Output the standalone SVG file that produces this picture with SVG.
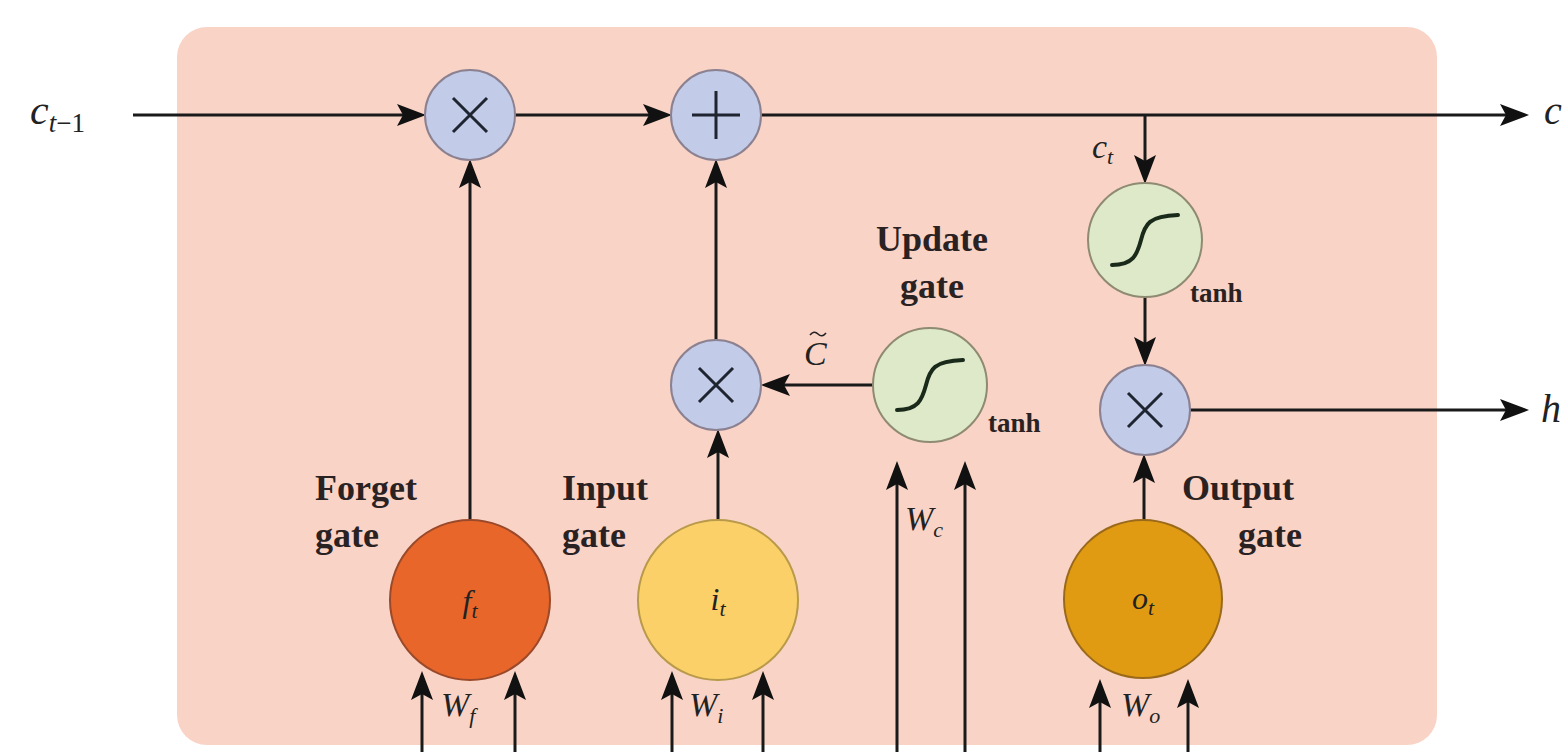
<svg xmlns="http://www.w3.org/2000/svg" width="1563" height="752" viewBox="0 0 1563 752">
<defs>
<marker id="ah" markerUnits="userSpaceOnUse" markerWidth="30" markerHeight="24" refX="24" refY="12" orient="auto" viewBox="0 0 30 24">
<path d="M0,1 L29,12 L0,23 L6,12 z" fill="#111"/>
</marker>
<style>
.cn{fill:none;stroke:#1a1a1a;stroke-width:3;marker-end:url(#ah)}
.op{fill:#c2cbe8;stroke:#8c8190;stroke-width:2}
.sg{fill:#dde9c8;stroke:#8f8a72;stroke-width:2}
.sym{fill:none;stroke:#1e2430;stroke-width:3}
.crv{fill:none;stroke:#1a2a1a;stroke-width:4;stroke-linecap:round}
.lbl{font-family:"Liberation Serif",serif;font-weight:bold;font-size:36px;fill:#2a2222}
.th{font-family:"Liberation Serif",serif;font-weight:bold;font-size:27px;fill:#2a2222}
.m{font-family:"Liberation Serif",serif;font-style:italic;fill:#222}
</style>
</defs>
<rect x="177" y="27" width="1260" height="718" rx="30" fill="#f9d3c6"/>

<g id="connectors">
<path class="cn" d="M133,115 H421"/>
<path class="cn" d="M515,115 H667"/>
<path class="cn" d="M761,115 H1524"/>
<path class="cn" d="M1145,115 V179"/>
<path class="cn" d="M1145,297 V361"/>
<path class="cn" d="M1190,410 H1524"/>
<path class="cn" d="M1144,521 V459"/>
<path class="cn" d="M873,385 H766"/>
<path class="cn" d="M716,340 V164"/>
<path class="cn" d="M718,520 V434"/>
<path class="cn" d="M470,520 V164"/>
<path class="cn" d="M422,752 V676"/>
<path class="cn" d="M515,752 V676"/>
<path class="cn" d="M672,752 V676"/>
<path class="cn" d="M763,752 V676"/>
<path class="cn" d="M897,752 V466"/>
<path class="cn" d="M965,752 V466"/>
<path class="cn" d="M1100,752 V684"/>
<path class="cn" d="M1188,752 V684"/>
</g>

<g id="mul_forget">
<circle class="op" cx="470" cy="115" r="45"/>
<path class="sym" d="M453,98 L487,132 M487,98 L453,132"/>
</g>
<g id="add_cell">
<circle class="op" cx="716" cy="115" r="45"/>
<path class="sym" d="M716,91 V139 M692,115 H740"/>
</g>
<g id="mul_input">
<circle class="op" cx="716" cy="385" r="45"/>
<path class="sym" d="M699,368 L733,402 M733,368 L699,402"/>
</g>
<g id="mul_output">
<circle class="op" cx="1145" cy="410" r="45"/>
<path class="sym" d="M1128,393 L1162,427 M1162,393 L1128,427"/>
</g>
<g id="tanh_cell">
<circle class="sg" cx="1145" cy="240" r="57"/>
<path class="crv" transform="translate(1145,240)" d="M-33,25 C-12,25 -8,15 -4,0 C0,-16 4,-24 33,-25"/>
<text class="th" x="1190" y="302">tanh</text>
</g>
<g id="tanh_update">
<circle class="sg" cx="930" cy="385" r="57"/>
<path class="crv" transform="translate(930,385)" d="M-33,25 C-12,25 -8,15 -4,0 C0,-16 4,-24 33,-25"/>
<text class="th" x="988" y="432">tanh</text>
</g>
<g id="forget_gate">
<circle cx="470" cy="600" r="80" fill="#e8662a" stroke="#9a4a2a" stroke-width="2"/>
<text class="m" x="470" y="612" font-size="32" text-anchor="middle">f<tspan font-size="22" dy="6">t</tspan></text>
<text class="lbl" x="315" y="500">Forget</text>
<text class="lbl" x="315" y="547">gate</text>
</g>
<g id="input_gate">
<circle cx="718" cy="600" r="80" fill="#fbd068" stroke="#b89a4a" stroke-width="2"/>
<text class="m" x="718" y="610" font-size="32" text-anchor="middle">i<tspan font-size="22" dy="6">t</tspan></text>
<text class="lbl" x="562" y="500">Input</text>
<text class="lbl" x="562" y="547">gate</text>
</g>
<g id="output_gate">
<circle cx="1143" cy="599" r="79" fill="#e19b12" stroke="#9a6a1a" stroke-width="2"/>
<text class="m" x="1143" y="609" font-size="32" text-anchor="middle">o<tspan font-size="22" dy="6">t</tspan></text>
<text class="lbl" x="1182" y="500">Output</text>
<text class="lbl" x="1302" y="547" text-anchor="end">gate</text>
</g>
<g id="update_label">
<text class="lbl" x="932" y="251" text-anchor="middle">Update</text>
<text class="lbl" x="932" y="298" text-anchor="middle">gate</text>
</g>

<g id="labels">
<text class="m" x="30" y="124" font-size="42">c<tspan font-size="27" dy="8">t</tspan><tspan font-size="27" font-style="normal">−1</tspan></text>
<text class="m" x="1544" y="124" font-size="40">c</text>
<text class="m" x="1541" y="422" font-size="40">h</text>
<text class="m" x="1092" y="158" font-size="34">c<tspan font-size="22" dy="6">t</tspan></text>
<text class="m" x="804" y="365" font-size="34">C</text>
<path d="M810,335 q4,-5 8,-1 t8,-1" fill="none" stroke="#222" stroke-width="1.6"/>
<text class="m" x="441" y="716" font-size="34">W<tspan font-size="22" dy="7">f</tspan></text>
<text class="m" x="689" y="716" font-size="34">W<tspan font-size="22" dy="7">i</tspan></text>
<text class="m" x="905" y="530" font-size="34">W<tspan font-size="22" dy="7">c</tspan></text>
<text class="m" x="1121" y="716" font-size="34">W<tspan font-size="22" dy="7">o</tspan></text>
</g>
</svg>
